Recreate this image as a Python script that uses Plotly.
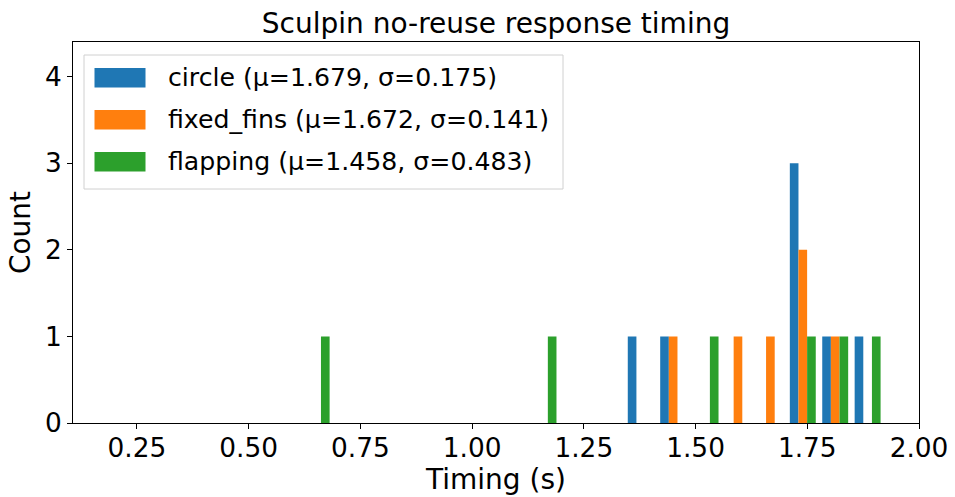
import plotly.graph_objects as go

# ---- data ----
series_names = ["circle", "fixed_fins", "flapping"]
series_mu = [1.679, 1.672, 1.458]
series_sigma = [0.175, 0.141, 0.483]
series_colors = ["#1f77b4", "#ff7f0e", "#2ca02c"]

bin_start = 0.1808
bin_width = 0.07252
circle_counts = [0, 0, 0, 0, 0, 0, 0, 0, 0, 0, 0, 0, 0, 0, 0, 0, 1, 1, 0, 0, 0, 3, 1, 1]
fixed_fins_counts = [0, 0, 0, 0, 0, 0, 0, 0, 0, 0, 0, 0, 0, 0, 0, 0, 0, 1, 0, 1, 1, 2, 1, 0]
flapping_counts = [0, 0, 0, 0, 0, 0, 1, 0, 0, 0, 0, 0, 0, 1, 0, 0, 0, 0, 1, 0, 0, 1, 1, 1]

x_ticks = [0.25, 0.50, 0.75, 1.00, 1.25, 1.50, 1.75, 2.00]
y_ticks = [0, 1, 2, 3, 4]

all_counts = [circle_counts, fixed_fins_counts, flapping_counts]
bin_centers = [bin_start + bin_width * (i + 0.5) for i in range(len(circle_counts))]

W, H = 955, 497
ML, MR, MT, MB = 73, 36, 42, 74
FONT = "DejaVu Sans"
TICK_SIZE = 26.4
LABEL_SIZE = 28.0
LEGEND_SIZE = 25.2

fig = go.Figure()
for name, counts, color in zip(series_names, all_counts, series_colors):
    fig.add_trace(go.Bar(x=bin_centers, y=counts, name=name,
                         marker=dict(color=color, line=dict(width=0)),
                         showlegend=False))

pw = W - ML - MR
ph = H - MT - MB


def px_x(px):
    return (px - ML) / pw


def px_y(py):
    return (H - MB - py) / ph


shapes = []
annotations = []
# legend box
shapes.append(dict(type="rect", xref="paper", yref="paper",
                   x0=px_x(84), x1=px_x(563), y0=px_y(189), y1=px_y(55),
                   line=dict(color="#d0d0d0", width=1),
                   fillcolor="rgba(255,255,255,0.8)", layer="above"))
row_y = [77.7, 119.7, 161.7]
for i, (name, mu, sg, color) in enumerate(zip(series_names, series_mu, series_sigma, series_colors)):
    cy = row_y[i]
    shapes.append(dict(type="rect", xref="paper", yref="paper",
                       x0=px_x(94.5), x1=px_x(145.5), y0=px_y(cy + 9.8), y1=px_y(cy - 9.8),
                       line=dict(width=0), fillcolor=color, layer="above"))
    annotations.append(dict(xref="paper", yref="paper", x=px_x(165.5), y=px_y(cy),
                            xanchor="left", yanchor="middle", showarrow=False,
                            text=f"{name} (μ={mu:.3f}, σ={sg:.3f})",
                            font=dict(family=FONT, size=LEGEND_SIZE, color="black")))

fig.update_layout(
    width=W, height=H,
    margin=dict(l=ML, r=MR, t=MT, b=MB, autoexpand=False),
    paper_bgcolor="white", plot_bgcolor="white",
    barmode="group", bargap=0.2, bargroupgap=0,
    font=dict(family=FONT, size=TICK_SIZE, color="black"),
    title=dict(text="Sculpin no-reuse response timing", x=(ML + pw / 2) / W, xanchor="center",
               y=1 - 23 / H, yanchor="middle", yref="container",
               font=dict(family=FONT, size=LABEL_SIZE, color="black")),
    xaxis=dict(range=[0.107, 2.0], tickvals=x_ticks, ticktext=[f"{v:.2f}" for v in x_ticks],
               ticks="outside", ticklen=5, tickwidth=1, tickcolor="black",
               tickfont=dict(size=TICK_SIZE), automargin=False, ticklabelstandoff=-4,
               showline=True, linecolor="black", linewidth=1, mirror=True,
               showgrid=False, zeroline=False,
               title=dict(text="Timing (s)", standoff=4, font=dict(size=LABEL_SIZE))),
    yaxis=dict(range=[0, 4.4], tickvals=y_ticks, ticktext=[str(v) for v in y_ticks],
               ticks="outside", ticklen=5, tickwidth=1, tickcolor="black",
               tickfont=dict(size=TICK_SIZE), automargin=False,
               showline=True, linecolor="black", linewidth=1, mirror=True,
               showgrid=False, zeroline=False,
               title=dict(text="Count", standoff=6, font=dict(size=LABEL_SIZE))),
    shapes=shapes, annotations=annotations,
)

fig.write_html("out.html")
